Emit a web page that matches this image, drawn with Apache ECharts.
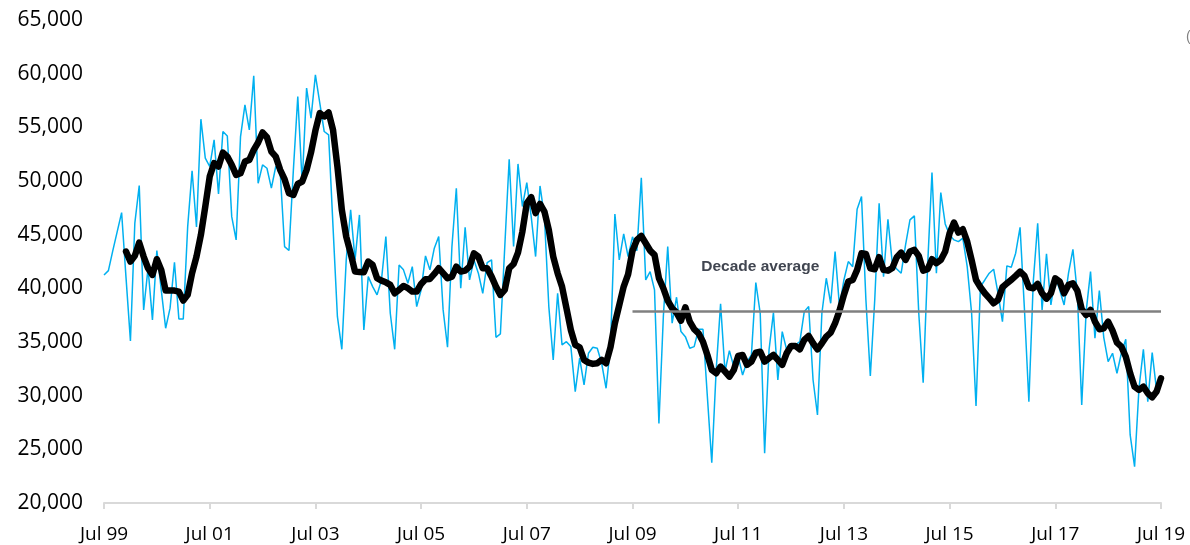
<!DOCTYPE html>
<html>
<head>
<meta charset="utf-8">
<script src="https://cdn.jsdelivr.net/npm/echarts@6/dist/echarts.min.js"></script>
<style>
html, body { margin: 0; padding: 0; background: #fff; }
#main { width: 1190px; height: 545px; }
</style>
</head>
<body>
<div id="main"></div>
<script>
// monthly figures, Jul 99 .. Jul 19
var monthNames = ['Jan', 'Feb', 'Mar', 'Apr', 'May', 'Jun', 'Jul', 'Aug', 'Sep', 'Oct', 'Nov', 'Dec'];
var startYear = 1999, startMonth = 6, monthCount = 241;

var monthly = [
	41250, 41650, 43520, 45290, 47060, 41000, 35100, 46070, 49570, 37990, 41870, 37060,
	43520, 39850, 36280, 38150, 42430, 37150, 37150, 45750, 50940, 45720, 55760, 52130,
	51350, 53830, 48800, 54610, 54200, 46680, 44510, 54140, 57090, 54760, 59800, 49790,
	51500, 51190, 49330, 51350, 50880, 43890, 43520, 51040, 57870, 49790, 58650, 55850,
	59890, 57250, 54610, 54300, 45750, 37360, 34320, 42650, 47310, 42650, 46840, 36120,
	41090, 40160, 39390, 40780, 44820, 37680, 34320, 42180, 41720, 40470, 42020, 38300,
	39850, 43020, 41720, 43740, 44820, 37990, 34510, 43890, 49330, 40010, 45690, 40780,
	42650, 41410, 39540, 42400, 42650, 35440, 35750, 43890, 52030, 43890, 51590, 47620,
	49850, 46680, 42960, 49540, 46680, 38300, 33330, 39540, 34730, 35030, 34570, 30380,
	33490, 31000, 33950, 34510, 34420, 33020, 30690, 34570, 46930, 42650, 45070, 42960,
	44800, 43500, 50300, 40780, 41560, 39850, 27420, 37360, 43890, 36750, 39170, 35970,
	35500, 34420, 34570, 36190, 36190, 29910, 23760, 32400, 38550, 32250, 34200, 32710,
	33640, 31930, 33170, 33790, 40530, 37680, 24630, 34260, 37740, 31460, 35970, 34260,
	34500, 34730, 35030, 37830, 38300, 31460, 28200, 37680, 40940, 38610, 43430, 38300,
	40780, 42490, 42020, 47370, 48550, 38920, 31840, 38920, 47930, 41090, 46440, 42300,
	41800, 41410, 44050, 46380, 46750, 37680, 31210, 42020, 50790, 41410, 48920, 46000,
	44980, 44510, 44350, 44670, 42020, 37680, 29040, 40160, 40780, 41410, 41780, 39540,
	36900, 42090, 41960, 43270, 45690, 38000, 29440, 40630, 46070, 37990, 43210, 38450,
	41090, 39850, 38450, 41410, 43640, 39540, 29130, 37830, 41560, 35350, 39790, 35440,
	33170, 33950, 32090, 33950, 35260, 26340, 23390, 30690, 34320, 29440, 34010, 30500,
	31800
];

// smoothed line, starts Dec 99
var smoothed = [
	null, null, null, null, null, 43430, 42490, 43030, 44260, 42960, 41870, 41250,
	42710, 41720, 39790, 39790, 39790, 39700, 38860, 39390, 41410, 42960, 44980, 47620,
	50410, 51660, 51350, 52650, 52270, 51500, 50570, 50720, 51810, 51970, 52900, 53590,
	54520, 54080, 52740, 52270, 51040, 50170, 48860, 48700, 49730, 49950, 51040, 52650,
	54700, 56320, 56010, 56380, 54760, 51350, 47310, 44820, 43270, 41560, 41530, 41500,
	42490, 42180, 40940, 40720, 40560, 40320, 39540, 39850, 40220, 40010, 39700, 39700,
	40410, 40850, 40880, 41340, 41870, 41410, 40940, 41090, 42020, 41560, 41650, 42020,
	43270, 42960, 41870, 41870, 41090, 40160, 39390, 39850, 41870, 42270, 43330, 45290,
	47930, 48490, 47000, 47870, 47150, 45440, 42960, 41410, 40160, 38150, 36120, 34730,
	34510, 33330, 33080, 32960, 33020, 33330, 33020, 34510, 36750, 38450, 40160, 41300,
	43500, 44510, 44880, 44200, 43520, 43120, 40940, 40010, 38860, 38150, 37740, 36990,
	38240, 36900, 36190, 35810, 35030, 33790, 32400, 32090, 32710, 32250, 31770, 32400,
	33700, 33790, 32870, 33170, 34010, 34100, 33170, 33490, 33790, 33330, 32870, 33950,
	34630, 34630, 34320, 35190, 35560, 34880, 34320, 34880, 35500, 35870, 36750, 37920,
	39390, 40630, 40780, 41720, 43270, 43210, 41870, 41780, 42900, 41720, 41650, 41900,
	42900, 43330, 42650, 43430, 43580, 43020, 41650, 41780, 42710, 42340, 42650, 43430,
	45130, 46130, 45190, 45500, 44350, 42650, 40780, 40100, 39540, 39080, 38610, 38920,
	40100, 40470, 40780, 41160, 41560, 41160, 40100, 40010, 40410, 39540, 39040, 39540,
	40940, 40630, 39540, 40320, 40470, 39790, 38050, 37520, 37990, 36900, 36190, 36280,
	36900, 36060, 34940, 34570, 33640, 32090, 30840, 30530, 30840, 30220, 29850, 30380,
	31620
];

var decadeAvg = 37900;
var decadeFrom = 'Jul 09', decadeTo = 'Jul 19';
var decadeLabelAt = ['Dec 11', 42000];

var categories = [];
for (var i = 0; i < monthCount; i++) {
	var m = (startMonth + i) % 12;
	var y = startYear + Math.floor((startMonth + i) / 12);
	categories.push(monthNames[m] + ' ' + String(y).slice(2));
}

function everyTwoYears(idx) {
	return idx % 24 === 0;
}

var myChart = echarts.init(document.getElementById('main'));
var option = {
	animation: false,
	backgroundColor: '#fff',
	grid: { left: 104, right: 29, top: 20, bottom: 42 },
	xAxis: {
		type: 'category',
		data: categories,
		boundaryGap: false,
		axisLine: { lineStyle: { color: '#d9d9d9', width: 2 } },
		axisTick: { show: true, interval: everyTwoYears, length: 6, lineStyle: { color: '#d9d9d9', width: 2 } },
		axisLabel: {
			interval: everyTwoYears,
			margin: 22,
			color: '#000',
			fontFamily: 'Open Sans',
			fontSize: 19
		},
		splitLine: { show: false }
	},
	yAxis: {
		type: 'value',
		min: 20000,
		max: 65000,
		interval: 5000,
		axisLine: { show: false },
		axisTick: { show: false },
		splitLine: { show: false },
		axisLabel: {
			margin: 21,
			color: '#000',
			fontFamily: 'Open Sans',
			fontSize: 21,
			formatter: function(v) { return v.toLocaleString('en-US'); }
		}
	},
	series: [{
		name: 'Monthly',
		type: 'line',
		data: monthly,
		symbol: 'none',
		z: 2,
		lineStyle: { color: '#00b0f0', width: 1.5 },
		markLine: {
			silent: true,
			symbol: 'none',
			label: { show: false },
			lineStyle: { color: '#808080', width: 2.5, type: 'solid' },
			data: [[{ coord: [decadeFrom, decadeAvg] }, { coord: [decadeTo, decadeAvg] }]]
		},
		markPoint: {
			silent: true,
			symbol: 'circle',
			symbolSize: 1,
			itemStyle: { color: 'rgba(0,0,0,0)' },
			label: {
				show: true,
				position: 'inside',
				formatter: 'Decade average',
				color: '#404550',
				fontFamily: 'Liberation Sans',
				fontWeight: 'bold',
				fontSize: 15.5
			},
			data: [{ coord: decadeLabelAt }]
		}
	}, {
		name: 'Smoothed',
		type: 'line',
		data: smoothed,
		symbol: 'none',
		z: 3,
		connectNulls: false,
		lineStyle: { color: '#000', width: 6.5, join: 'round', cap: 'round' }
	}],
	graphic: [{
		type: 'text',
		left: 1186,
		top: 30,
		style: { text: '(', fill: '#808080', font: '14px Liberation Sans' }
	}]
};
myChart.setOption(option);
</script>
</body>
</html>
